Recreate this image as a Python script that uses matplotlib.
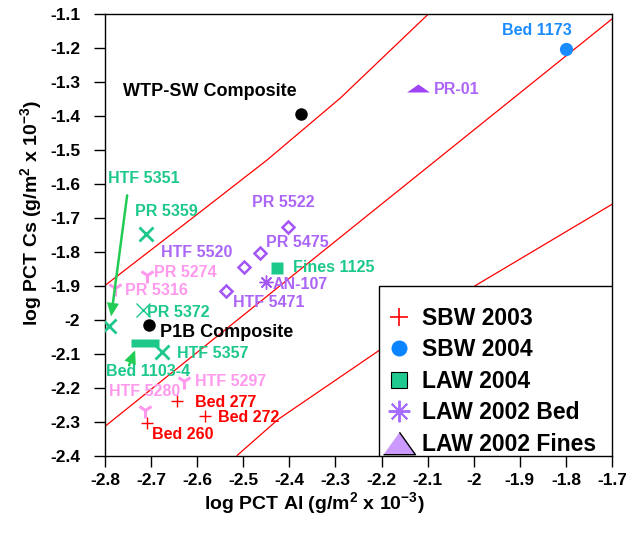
import matplotlib
matplotlib.use('Agg')
import matplotlib.pyplot as plt
from matplotlib.lines import Line2D
from matplotlib.patches import Rectangle
from matplotlib.transforms import offset_copy

plt.rcParams['font.family'] = ['Liberation Sans', 'DejaVu Sans']
plt.rcParams['font.weight'] = 'bold'
plt.rcParams['axes.unicode_minus'] = False
plt.rcParams['mathtext.fontset'] = 'custom'
plt.rcParams['mathtext.rm'] = 'Liberation Sans:bold'
plt.rcParams['mathtext.bf'] = 'Liberation Sans:bold'
plt.rcParams['mathtext.it'] = 'Liberation Sans:bold'
plt.rcParams['mathtext.default'] = 'rm'

# ---------------- data ----------------
x_ticks = [-2.8, -2.7, -2.6, -2.5, -2.4, -2.3, -2.2, -2.1, -2.0, -1.9, -1.8, -1.7]
x_tick_labels = ['-2.8', '-2.7', '-2.6', '-2.5', '-2.4', '-2.3', '-2.2', '-2.1', '-2',
                 '-1.9', '-1.8', '-1.7']
y_ticks = [-2.4, -2.3, -2.2, -2.1, -2.0, -1.9, -1.8, -1.7, -1.6, -1.5, -1.4, -1.3, -1.2, -1.1]
y_tick_labels = ['-2.4', '-2.3', '-2.2', '-2.1', '-2', '-1.9', '-1.8', '-1.7', '-1.6',
                 '-1.5', '-1.4', '-1.3', '-1.2', '-1.1']

# regression line and bands
fit_x = [-2.8, -1.7]
fit_y = [-2.313, -1.116]
upper_x = [-2.8, -2.60, -2.448, -2.289, -2.098]
upper_y = [-1.899, -1.690, -1.530, -1.348, -1.101]
lower_x = [-2.513, -2.424, -2.20, -1.996, -1.698]
lower_y = [-2.398, -2.292, -2.085, -1.899, -1.659]

# SBW 2003 (red plus)
sbw03_names = ['Bed 277', 'Bed 272', 'Bed 260']
sbw03_x = [-2.644, -2.583, -2.709]
sbw03_y = [-2.239, -2.283, -2.304]
# SBW 2004 (blue circle)
sbw04_names = ['Bed 1173']
sbw04_x = [-1.800]
sbw04_y = [-1.204]
# composites (black dot)
comp_names = ['WTP-SW Composite', 'P1B Composite']
comp_x = [-2.374, -2.704]
comp_y = [-1.395, -2.016]
# LAW 2004 fines (green square)
law04f_names = ['Fines 1125']
law04f_x = [-2.426]
law04f_y = [-1.849]
# LAW 2004 bed (green bar)
law04b_names = ['Bed 1103-4']
law04b_x = [-2.713]
law04b_y = [-2.069]
# green X
gx_names = ['PR 5359', 'HTF 5351', 'HTF 5357']
gx_x = [-2.711, -2.791, -2.676]
gx_y = [-1.747, -2.019, -2.093]
# thin green X
tx_names = ['PR 5372']
tx_x = [-2.717]
tx_y = [-1.970]
# pink Y
py_names = ['PR 5274', 'PR 5316', 'HTF 5297', 'HTF 5280']
py_x = [-2.709, -2.778, -2.628, -2.713]
py_y = [-1.867, -1.905, -2.181, -2.266]
# purple diamonds
pd_names = ['PR 5522', 'PR 5475', 'HTF 5520', 'HTF 5471']
pd_x = [-2.404, -2.463, -2.498, -2.537]
pd_y = [-1.726, -1.805, -1.846, -1.914]
# LAW 2002 bed (asterisk)
law02b_names = ['AN-107']
law02b_x = [-2.450]
law02b_y = [-1.890]
# LAW 2002 fines (triangle)
law02f_names = ['PR-01']
law02f_x = [-2.120]
law02f_y = [-1.318]

legend_labels = ['SBW 2003', 'SBW 2004', 'LAW 2004', 'LAW 2002 Bed', 'LAW 2002 Fines']

# ---------------- styles ----------------
RED = '#FF0000'
BLUE = '#1A8CFF'
GREEN = '#1DC98A'
ARROW_GREEN = '#22CC55'
PURPLE = '#A355F5'
PURPLE_TXT = '#AC66F7'
PINK = '#FF99EE'
LAVENDER = '#CC99FF'

flat_tri = [(-1, -0.35), (1, -0.35), (0, 0.35)]
legend_tri = [(-1, -0.7), (1, -0.7), (0, 0.7)]
bar_rect = [(-1, -0.32), (1, -0.32), (1, 0.32), (-1, 0.32)]

# label offsets in pixels (dx, dy) and alignment
offsets = {
    'Bed 277': (18, -1), 'Bed 272': (13, -1), 'Bed 260': (5, -11),
    'Bed 1173': (-29, 18, 'center'),
    'WTP-SW Composite': (-178, 22), 'P1B Composite': (11, -7),
    'Fines 1125': (16, 1), 'Bed 1103-4': (-39, -28),
    'PR 5359': (-11, 22), 'HTF 5351': (-1, 148), 'HTF 5357': (15, -2),
    'PR 5372': (4, -3),
    'PR 5274': (7, 2), 'PR 5316': (10, -3), 'HTF 5297': (11, 0), 'HTF 5280': (-36, 19),
    'PR 5522': (-36, 24), 'PR 5475': (6, 11), 'HTF 5520': (-83, 15), 'HTF 5471': (7, -12),
    'AN-107': (6, -2), 'PR-01': (15, -2),
}

fig = plt.figure(figsize=(6.26, 5.37), dpi=100)
ax = fig.add_axes([105 / 626, 1 - 456 / 537, 507 / 626, 442.5 / 537])
ax.set_xlim(-2.8, -1.7)
ax.set_ylim(-2.4, -1.1)

ax.plot(fit_x, fit_y, color=RED, lw=0.9, zorder=2)
ax.plot(upper_x, upper_y, color=RED, lw=0.9, zorder=2)
ax.plot(lower_x, lower_y, color=RED, lw=0.9, zorder=2)

ax.plot(sbw03_x, sbw03_y, ls='none', marker='+', ms=9, mew=1.0, color=RED, zorder=3)
ax.plot(sbw04_x, sbw04_y, ls='none', marker='o', ms=9.5, mec='none', color=BLUE, zorder=3)
ax.plot(comp_x, comp_y, ls='none', marker='o', ms=9, mec='none', color='black', zorder=3)
ax.plot(law04f_x, law04f_y, ls='none', marker='s', ms=8, mec='none', color=GREEN, zorder=3)
ax.plot(law04b_x, law04b_y, ls='none', marker=bar_rect, ms=20, mec='none', color=GREEN, zorder=3)
ax.plot(gx_x, gx_y, ls='none', marker='x', ms=10, mew=2.0, color=GREEN, zorder=3)
ax.plot(tx_x, tx_y, ls='none', marker='x', ms=10, mew=1.0, color=GREEN, zorder=3)
ax.plot(py_x, py_y, ls='none', marker='1', ms=11, mew=2.2, color=PINK, zorder=3)
ax.plot(pd_x, pd_y, ls='none', marker='D', ms=6, mew=1.8, mfc='white', mec=PURPLE, zorder=3)
ax.plot(law02b_x, law02b_y, ls='none', marker=(8, 2, 0), ms=10, mew=1.0, color=PURPLE, zorder=3)
ax.plot(law02f_x, law02f_y, ls='none', marker=flat_tri, ms=16.5, mec='none', color='#9F45F5', zorder=3)

def labels(names, xs, ys, color, size=11.5):
    for n, x, y in zip(names, xs, ys):
        o = offsets[n]
        ha = o[2] if len(o) > 2 else 'left'
        ax.annotate(n, (x, y), xytext=(o[0], o[1]), textcoords='offset pixels',
                    ha=ha, va='center', color=color, fontsize=size, fontweight='bold', zorder=4)

labels(sbw03_names, sbw03_x, sbw03_y, RED)
labels(sbw04_names, sbw04_x, sbw04_y, BLUE)
labels(comp_names, comp_x, comp_y, 'black', size=13)
labels(law04f_names, law04f_x, law04f_y, GREEN)
labels(law04b_names, law04b_x, law04b_y, GREEN)
labels(gx_names, gx_x, gx_y, GREEN)
labels(tx_names, tx_x, tx_y, GREEN)
labels(py_names, py_x, py_y, PINK)
labels(pd_names, pd_x, pd_y, PURPLE_TXT)
labels(law02b_names, law02b_x, law02b_y, PURPLE_TXT)
labels(law02f_names, law02f_x, law02f_y, PURPLE_TXT)

# arrows (tail/tip offsets in pixels relative to the marker)
def arrow(x, y, tail, tip):
    tr_tip = offset_copy(ax.transData, fig=fig, x=tip[0], y=tip[1], units='dots')
    tr_tail = offset_copy(ax.transData, fig=fig, x=tail[0], y=tail[1], units='dots')
    ax.annotate('', xy=(x, y), xycoords=tr_tip, xytext=(x, y), textcoords=tr_tail,
                arrowprops=dict(arrowstyle='-|>,head_length=0.55,head_width=0.25',
                                color=ARROW_GREEN, lw=1.8, mutation_scale=12,
                                shrinkA=0, shrinkB=0, joinstyle='miter'), zorder=4)

arrow(gx_x[1], gx_y[1], (18, 131), (2, 10))
arrow(law04b_x[0], law04b_y[0], (-16, -22), (-10, -7))

ax.set_xticks(x_ticks, labels=x_tick_labels)
ax.set_yticks(y_ticks, labels=y_tick_labels)
ax.tick_params(axis='both', direction='out', length=8, width=1, labelsize=12.5, color='black')
ax.tick_params(axis='x', pad=4)
ax.tick_params(axis='y', pad=10)
for s in ax.spines.values():
    s.set_linewidth(1.0)
    s.set_color('black')

fig.text(314 / 626, 1 - 503 / 537, r'log PCT Al (g/m$^{2}$ x 10$^{-3}$)',
         ha='center', va='center', fontsize=14, fontweight='bold')
fig.text(31 / 626, 1 - 213 / 537, r'log PCT Cs (g/m$^{2}$ x 10$^{-3}$)',
         ha='center', va='center', rotation=90, fontsize=14, fontweight='bold')

# legend
frame = Rectangle((274 / 507, 0), 233 / 507, 170 / 442.5, transform=ax.transAxes,
                  facecolor='white', edgecolor='black', lw=1.0, zorder=5)
ax.add_patch(frame)
handles = [
    Line2D([], [], ls='none', marker='+', ms=13.5, mew=1.2, color=RED),
    Line2D([], [], ls='none', marker='o', ms=11.5, mec='none', color='#0A84FF'),
    Line2D([], [], ls='none', marker='s', ms=11, mec='black', mew=0.8, mfc='#20C990'),
    Line2D([], [], ls='none', marker=(8, 2, 0), ms=15.5, mew=1.4, color='#A66CFF'),
    Line2D([], [], ls='none', marker=legend_tri, ms=23, mec='black', mew=1.0, mfc=LAVENDER),
]
leg = ax.legend(handles, legend_labels, loc='upper left',
                bbox_to_anchor=((384 - 105) / 507, (456 - 307) / 442.5),
                frameon=False, fontsize=16.5, handlelength=1.35, handletextpad=0.33,
                borderpad=0, borderaxespad=0, labelspacing=0.37, handleheight=0.7)
leg.set_zorder(6)

fig.savefig('out.png', dpi=100)
